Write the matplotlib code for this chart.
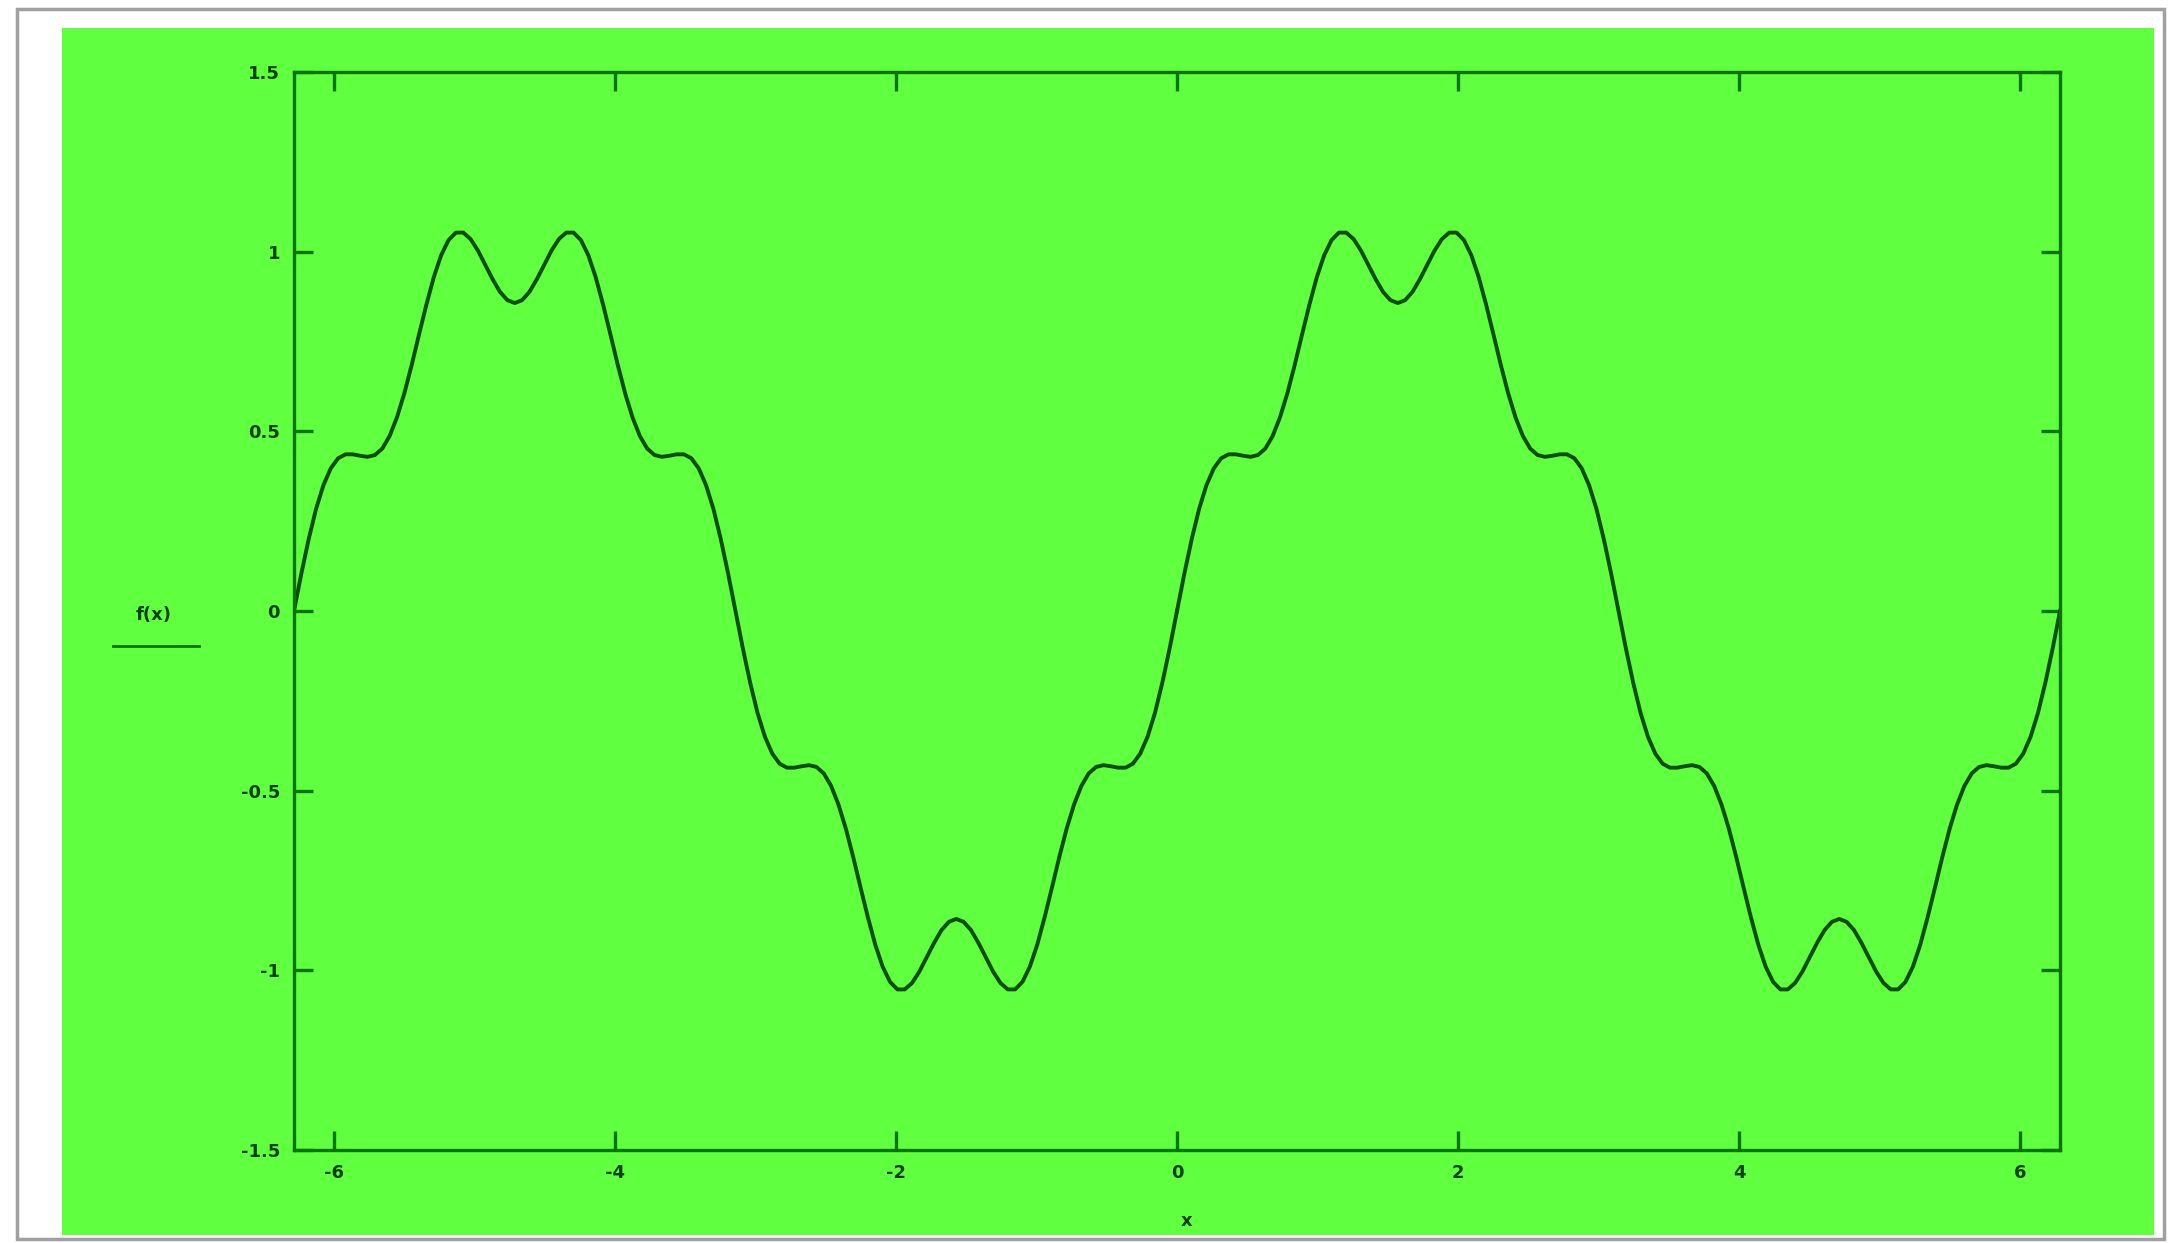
import numpy as np
import matplotlib.pyplot as plt
from matplotlib.patches import Rectangle
from matplotlib.lines import Line2D

x_deg = np.arange(0, 361, 3)
f_period = [0.000, 0.104, 0.200, 0.284, 0.350, 0.397, 0.425, 0.436, 0.436, 0.432,
            0.429, 0.434, 0.452, 0.487, 0.539, 0.606, 0.685, 0.770, 0.853, 0.929,
            0.990, 1.032, 1.053, 1.053, 1.035, 1.003, 0.963, 0.923, 0.888, 0.865,
            0.857, 0.865, 0.888, 0.923, 0.963, 1.003, 1.035, 1.053, 1.053, 1.032,
            0.990, 0.929, 0.853, 0.770, 0.685, 0.606, 0.539, 0.487, 0.452, 0.434,
            0.429, 0.432, 0.436, 0.436, 0.425, 0.397, 0.350, 0.284, 0.200, 0.104,
            0.000, -0.104, -0.200, -0.284, -0.350, -0.397, -0.425, -0.436, -0.436, -0.432,
            -0.429, -0.434, -0.452, -0.487, -0.539, -0.606, -0.685, -0.770, -0.853, -0.929,
            -0.990, -1.032, -1.053, -1.053, -1.035, -1.003, -0.963, -0.923, -0.888, -0.865,
            -0.857, -0.865, -0.888, -0.923, -0.963, -1.003, -1.035, -1.053, -1.053, -1.032,
            -0.990, -0.929, -0.853, -0.770, -0.685, -0.606, -0.539, -0.487, -0.452, -0.434,
            -0.429, -0.432, -0.436, -0.436, -0.425, -0.397, -0.350, -0.284, -0.200, -0.104,
            0.000]
period_starts = [-2 * np.pi, 0.0]
xticks = [-6, -4, -2, 0, 2, 4, 6]
yticks = [-1.5, -1, -0.5, 0, 0.5, 1, 1.5]
ytick_labels = ["-1.5", "-1", "-0.5", "0", "0.5", "1", "1.5"]

green = "#60ff40"
dark = "#0c7200"
txt = "#0a3f04"

fig = plt.figure(figsize=(21.68, 12.43), dpi=100)
fig.patch.set_facecolor("white")

# outer frame + green panel (behind the axes)
fig.add_artist(Rectangle((0.008, 0.003), 0.99, 0.99, transform=fig.transFigure,
                         facecolor="white", edgecolor="#a0a0a0", lw=2.5, zorder=-10))
fig.add_artist(Rectangle((0.0286, 0.0064), 0.9649, 0.9711, transform=fig.transFigure,
                         facecolor=green, edgecolor="none", zorder=-9))

ax = fig.add_axes([0.1356, 0.0748, 0.8146, 0.8673])
ax.set_facecolor(green)

xs = np.radians(x_deg)
for x0 in period_starts:
    ax.plot(xs + x0, f_period, color="#0d4c03", lw=2.8)

ax.set_xlim(-2 * np.pi, 2 * np.pi)
ax.set_ylim(-1.5, 1.5)
ax.set_xticks(xticks)
ax.set_xticklabels([str(v) for v in xticks], fontweight="bold")
ax.set_yticks(yticks)
ax.set_yticklabels(ytick_labels, fontweight="bold")
for s in ax.spines.values():
    s.set_color(dark)
    s.set_linewidth(2.4)
ax.tick_params(direction="in", length=14, width=2.4, color=dark, top=True, right=True,
               labelsize=13, labelcolor=txt, pad=10)

fig.text(0.5471, 0.018, "x", ha="center", va="center", fontsize=13, color=txt,
         fontweight="bold")
fig.text(0.071, 0.505, "f(x)", ha="center", va="center", fontsize=13, color=txt,
         fontweight="bold")
fig.add_artist(Line2D([0.052, 0.092], [0.480, 0.480], transform=fig.transFigure,
                      color=dark, lw=2))

fig.savefig("out.png", dpi=100)
